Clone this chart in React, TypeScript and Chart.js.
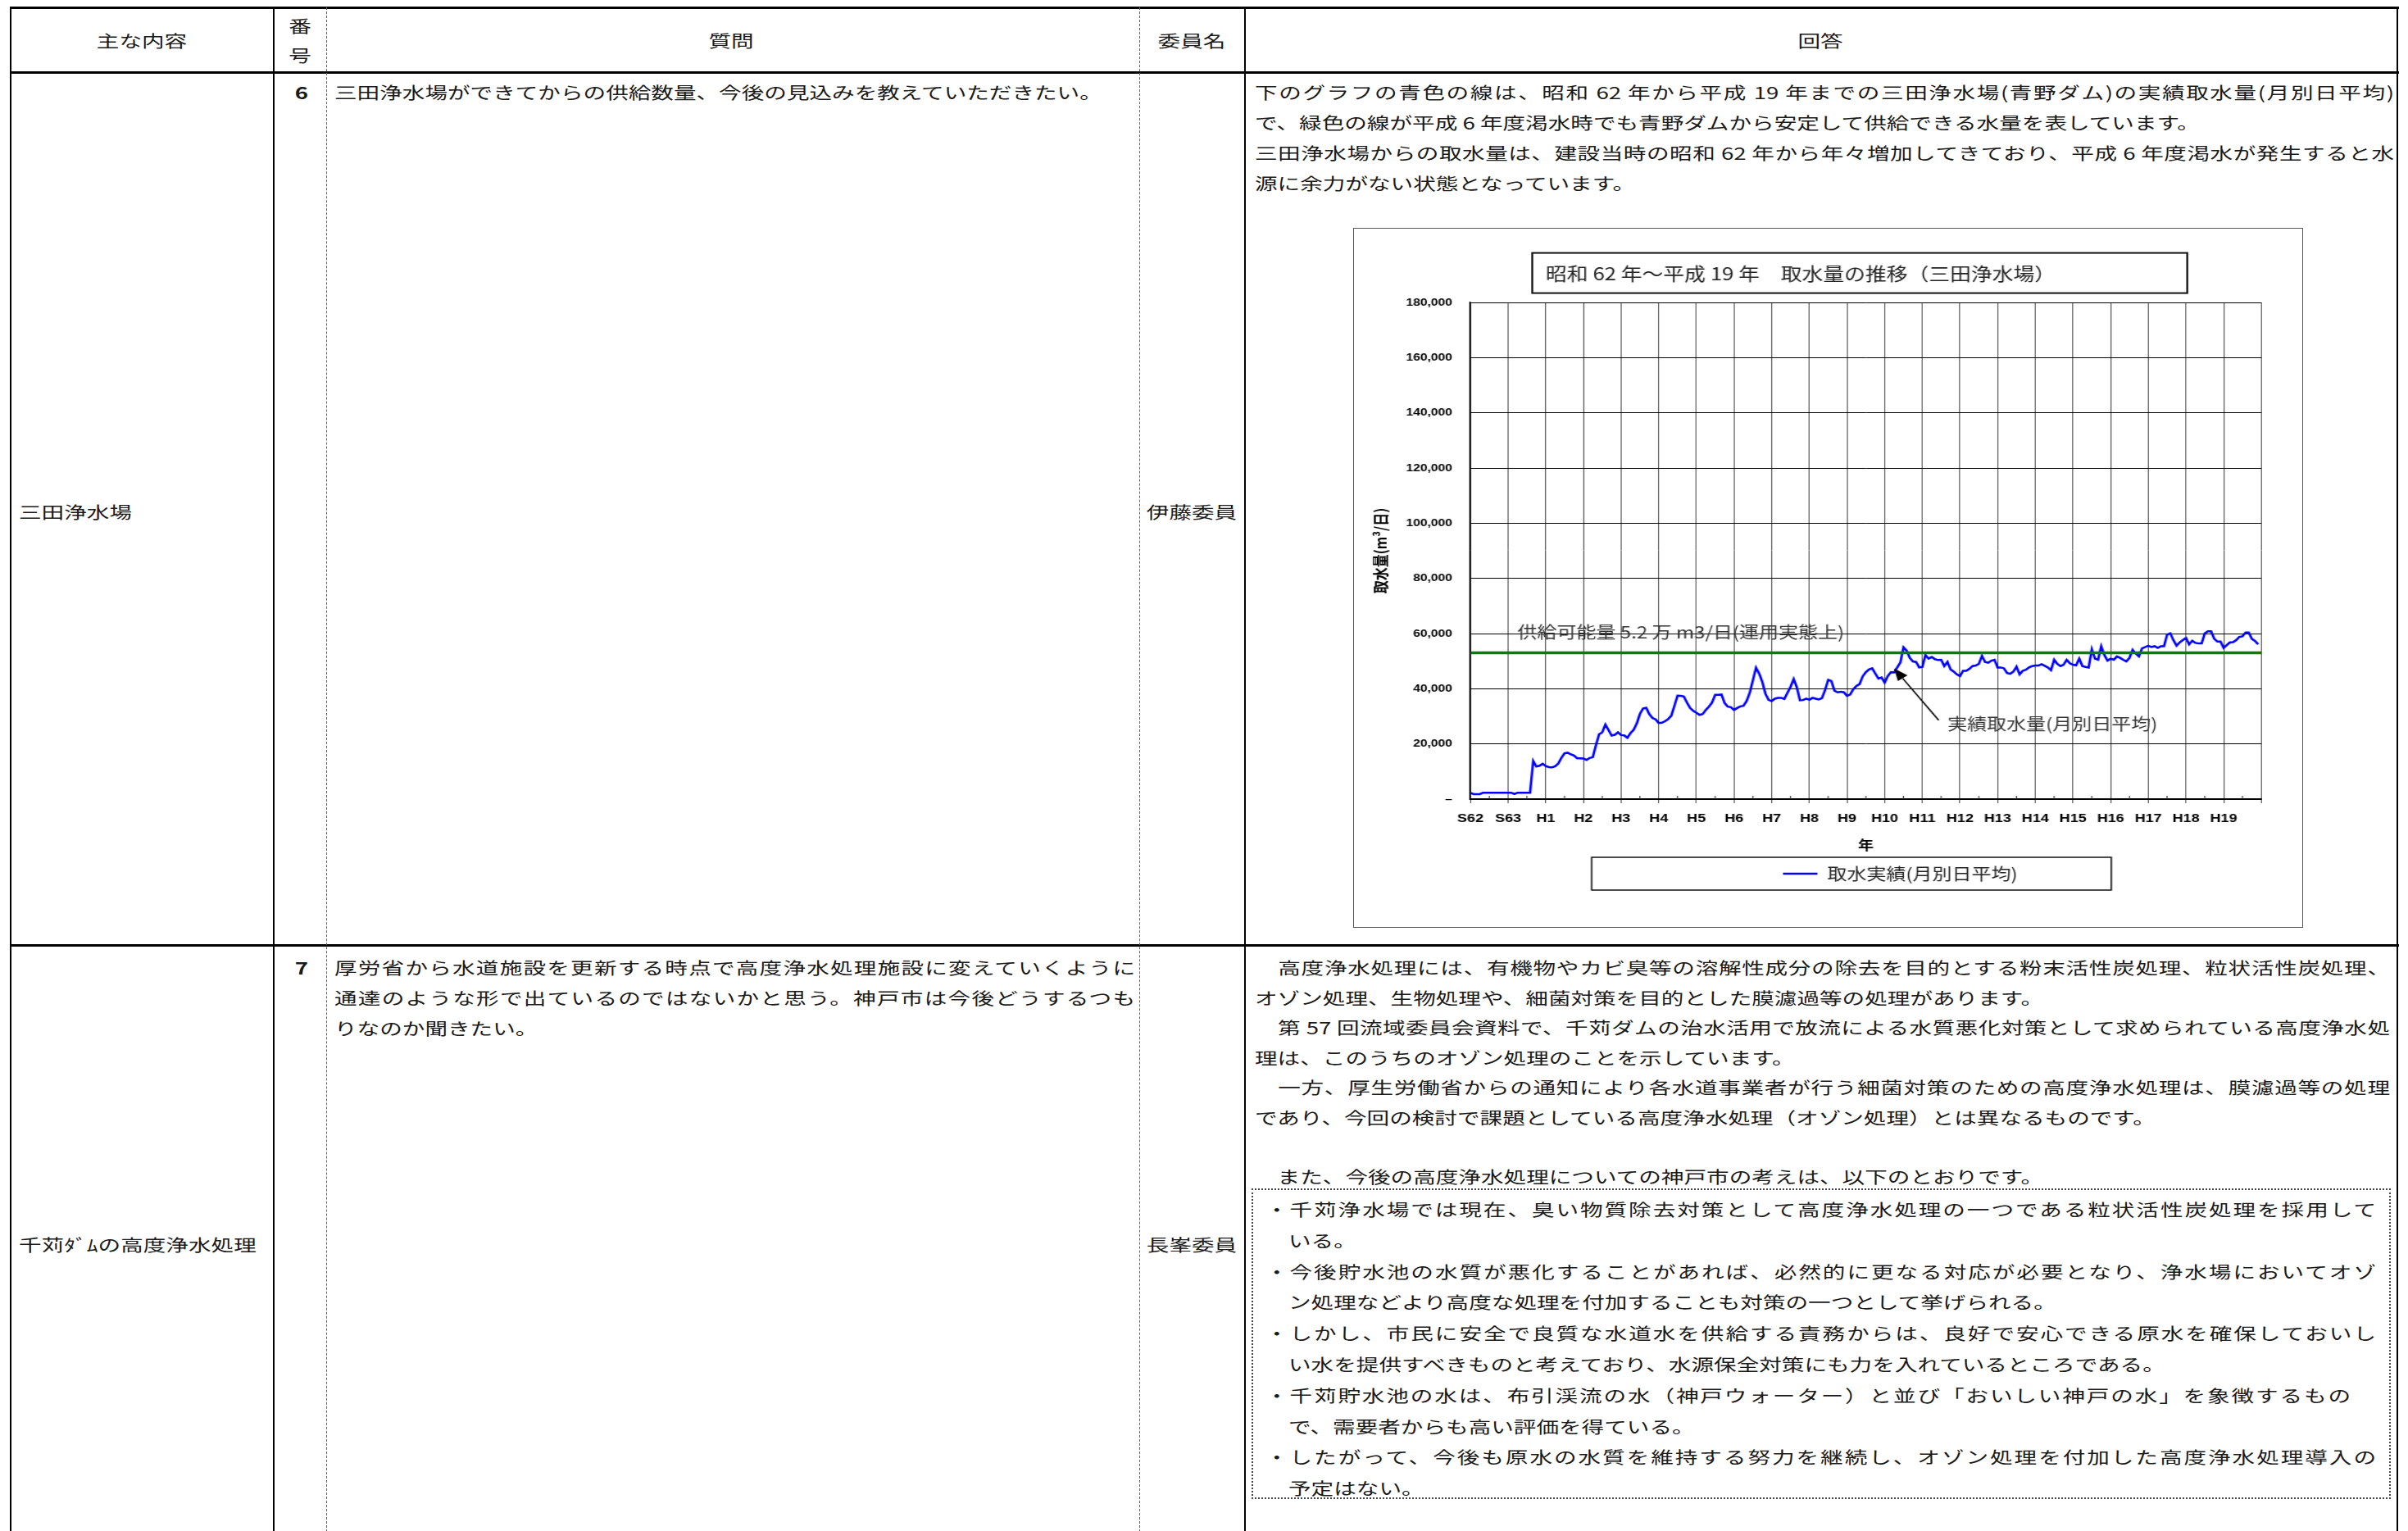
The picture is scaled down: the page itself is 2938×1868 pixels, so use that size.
import React, { useEffect, useRef } from "react";
import { Chart, registerables } from "chart.js";

Chart.register(...registerables);

// ---------- chart data ----------
const YEAR_LABELS = ["S62", "S63", "H1", "H2", "H3", "H4", "H5", "H6", "H7", "H8", "H9", "H10", "H11", "H12", "H13", "H14", "H15", "H16", "H17", "H18", "H19"];
const MONTHS_PER_YEAR = 12;
// monthly average daily intake (m3/day), S62 first month .. H19 last month
const WITHDRAWAL = [
  2300, 1800, 1800, 1800, 2300, 2300, 2300, 2300, 2300, 2300, 2300, 2300,
  2300, 2300, 1800, 2300, 2300, 2300, 2300, 2300, 13800, 11800, 12100, 12800,
  12000, 11600, 11500, 11900, 12900, 15000, 16600, 16800, 16200, 15800, 14800, 14800,
  14700, 14200, 14900, 15200, 19500, 23500, 24200, 27000, 25000, 23000, 23300, 24200,
  23200, 23100, 22200, 23900, 25100, 27400, 30800, 32800, 33100, 30800, 29400, 28900,
  27600, 27700, 28200, 29000, 30200, 33800, 37500, 37400, 37200, 35000, 33000, 32000,
  31300, 30500, 30800, 32300, 33500, 35000, 37800, 37800, 37900, 34800, 33500, 33300,
  32300, 33000, 33600, 33800, 35500, 38500, 43000, 47600, 45500, 42500, 38200, 36000,
  35500, 36400, 36700, 36700, 36300, 38500, 40700, 43500, 40500, 35800, 35900, 36400,
  36000, 36700, 36400, 36100, 36600, 39500, 43200, 42800, 39300, 38700, 38900, 38700,
  37400, 37900, 39800, 41000, 41700, 44500, 46000, 47000, 47400, 45500, 43700, 44100,
  42200, 44600, 46000, 45900, 47700, 49500, 55000, 53800, 51200, 49900, 49700, 47700,
  47900, 52200, 50900, 51500, 50700, 50400, 50500, 48200, 49700, 47000, 46200, 45200,
  44600, 46500, 46500, 47200, 48200, 48400, 49000, 51900, 49700, 49400, 50200, 50500,
  47700, 47700, 47400, 45700, 45400, 46200, 48000, 45200, 46500, 46900, 47700, 48200,
  48400, 48400, 48900, 48300, 47700, 46700, 50500, 49000, 48200, 48700, 50500, 49200,
  48700, 48500, 50900, 48200, 47900, 47700, 54300, 50900, 50500, 55400, 52200, 50200,
  50900, 50500, 51700, 51200, 50500, 49900, 51200, 54100, 52700, 51700, 54600, 55100,
  55600, 55100, 55400, 54800, 55400, 55400, 59600, 60100, 57600, 55600, 56800, 57600,
  58400, 56100, 57400, 56600, 56400, 56400, 60100, 60800, 60800, 58100, 57100, 57100,
  54800, 55800, 56800, 56900, 57600, 58800, 59000, 60400, 60400, 58100, 57300, 56100,
];
const SUPPLY_CAPACITY = 53000;
const Y_MAX = 180000;
const Y_STEP = 20000;

const CHART_TITLE = "昭和 62 年～平成 19 年　取水量の推移（三田浄水場）";
const SERIES_LABEL = "取水実績(月別日平均)";
const SUPPLY_LABEL = "供給可能量";
const SUPPLY_NOTE = "供給可能量 5.2 万 m3/日(運用実態上)";
const ACTUAL_NOTE = "実績取水量(月別日平均)";
const Y_TITLE = "取水量(m³/日)";
const X_TITLE = "年";

// annotation anchors in data units [month index, m3/day]
const SUPPLY_NOTE_AT = [15, 60500];
const ACTUAL_NOTE_AT = [152, 27250];
const ARROW_FROM = [149.2, 28600];
const ARROW_TO = [135, 47400];

const JP = '"Noto Sans CJK JP", "Noto Sans CJK SC", sans-serif';
const SANS = '"Liberation Sans", Arial, sans-serif';

// ---------- document text ----------
const HEADERS = ["主な内容", "質問", "委員名", "回答"];
const TOPIC_1 = "三田浄水場";
const TOPIC_2 = "千苅ﾀﾞﾑの高度浄水処理";
const MEMBER_1 = "伊藤委員";
const MEMBER_2 = "長峯委員";
const QUESTION_1 = "三田浄水場ができてからの供給数量、今後の見込みを教えていただきたい。";
const QUESTION_2 = [
  "厚労省から水道施設を更新する時点で高度浄水処理施設に変えていくように",
  "通達のような形で出ているのではないかと思う。神戸市は今後どうするつも",
  "りなのか聞きたい。",
];
const ANSWER_1 = [
  "下のグラフの青色の線は、昭和 62 年から平成 19 年までの三田浄水場(青野ダム)の実績取水量(月別日平均)",
  "で、緑色の線が平成 6 年度渇水時でも青野ダムから安定して供給できる水量を表しています。",
  "三田浄水場からの取水量は、建設当時の昭和 62 年から年々増加してきており、平成 6 年度渇水が発生すると水",
  "源に余力がない状態となっています。",
];
const ANSWER_2 = [
  "　高度浄水処理には、有機物やカビ臭等の溶解性成分の除去を目的とする粉末活性炭処理、粒状活性炭処理、",
  "オゾン処理、生物処理や、細菌対策を目的とした膜濾過等の処理があります。",
  "　第 57 回流域委員会資料で、千苅ダムの治水活用で放流による水質悪化対策として求められている高度浄水処",
  "理は、このうちのオゾン処理のことを示しています。",
  "　一方、厚生労働省からの通知により各水道事業者が行う細菌対策のための高度浄水処理は、膜濾過等の処理",
  "であり、今回の検討で課題としている高度浄水処理（オゾン処理）とは異なるものです。",
];
const ANSWER_2_LEAD = "　また、今後の高度浄水処理についての神戸市の考えは、以下のとおりです。";
const BOX_LINES = [
  "・千苅浄水場では現在、臭い物質除去対策として高度浄水処理の一つである粒状活性炭処理を採用して",
  "いる。",
  "・今後貯水池の水質が悪化することがあれば、必然的に更なる対応が必要となり、浄水場においてオゾ",
  "ン処理などより高度な処理を付加することも対策の一つとして挙げられる。",
  "・しかし、市民に安全で良質な水道水を供給する責務からは、良好で安心できる原水を確保しておいし",
  "い水を提供すべきものと考えており、水源保全対策にも力を入れているところである。",
  "・千苅貯水池の水は、布引渓流の水（神戸ウォーター）と並び「おいしい神戸の水」を象徴するもの",
  "で、需要者からも高い評価を得ている。",
  "・したがって、今後も原水の水質を維持する努力を継続し、オゾン処理を付加した高度浄水処理導入の",
  "予定はない。",
];

// ---------- chart plugin: title box, legend box, notes, arrow, minor ticks ----------
const decorPlugin = {
  id: "decor",
  afterLayout(chart: any) {
    const lg = chart.legend;
    const ca = chart.chartArea;
    if (lg && ca) {
      const target = (ca.left + ca.right) / 2 + 35;
      const d = target - (lg.left + lg.right) / 2;
      lg.left += d;
      lg.right += d;
    }
  },
  afterDraw(chart: any) {
    const { ctx, chartArea: ca } = chart;
    const xs = chart.scales.x;
    const ys = chart.scales.y;
    const cx = (ca.left + ca.right) / 2;
    ctx.save();

    // minor half-year ticks on x axis
    ctx.strokeStyle = "#333";
    ctx.lineWidth = 1;
    for (let m = MONTHS_PER_YEAR / 2; m < WITHDRAWAL.length; m += MONTHS_PER_YEAR) {
      const px = xs.getPixelForValue(m);
      ctx.beginPath();
      ctx.moveTo(px, ca.bottom);
      ctx.lineTo(px, ca.bottom - 4);
      ctx.stroke();
    }

    // title box + title
    const tLeft = cx - 339.2;
    ctx.strokeStyle = "#111";
    ctx.lineWidth = 2;
    ctx.strokeRect(tLeft, 30.6, 666, 49);
    ctx.fillStyle = "#222";
    ctx.font = `21.5px ${JP}`;
    ctx.textAlign = "left";
    ctx.textBaseline = "middle";
    ctx.fillText(CHART_TITLE, tLeft + 13.8, 55.5);

    // legend box
    const lg = chart.legend;
    const lgCenter = lg ? lg.bottom - 10 - 10 : ca.bottom + 88;
    ctx.lineWidth = 1.5;
    ctx.strokeStyle = "#111";
    ctx.strokeRect(cx - 278.8, lgCenter - 20, 528.3, 40);

    // notes
    ctx.fillStyle = "#333";
    ctx.font = `20px ${JP}`;
    ctx.fillText(SUPPLY_NOTE, xs.getPixelForValue(SUPPLY_NOTE_AT[0]), ys.getPixelForValue(SUPPLY_NOTE_AT[1]));
    ctx.fillText(ACTUAL_NOTE, xs.getPixelForValue(ACTUAL_NOTE_AT[0]), ys.getPixelForValue(ACTUAL_NOTE_AT[1]));

    // arrow
    const x1 = xs.getPixelForValue(ARROW_FROM[0]);
    const y1 = ys.getPixelForValue(ARROW_FROM[1]);
    const x2 = xs.getPixelForValue(ARROW_TO[0]);
    const y2 = ys.getPixelForValue(ARROW_TO[1]);
    const ang = Math.atan2(y2 - y1, x2 - x1);
    const head = 15;
    const half = 6;
    const hx = x2 - head * Math.cos(ang);
    const hy = y2 - head * Math.sin(ang);
    ctx.strokeStyle = "#000";
    ctx.fillStyle = "#000";
    ctx.lineWidth = 1.5;
    ctx.beginPath();
    ctx.moveTo(x1, y1);
    ctx.lineTo(hx, hy);
    ctx.stroke();
    ctx.beginPath();
    ctx.moveTo(x2, y2);
    ctx.lineTo(hx + half * Math.sin(ang), hy - half * Math.cos(ang));
    ctx.lineTo(hx - half * Math.sin(ang), hy + half * Math.cos(ang));
    ctx.closePath();
    ctx.fill();
    ctx.restore();
  },
};

// ---------- text helper ----------
type TP = {
  x: number;
  y: number;
  text: string;
  w?: number;
  justify?: boolean;
  center?: boolean;
  right?: boolean;
  bold?: boolean;
  size?: number;
};
function T({ x, y, text, w, justify, center, right, bold, size = 27.6 }: TP) {
  let left = x;
  let width: number | undefined = w;
  let align: any = "left";
  if (center) {
    width = 400;
    left = x - 200;
    align = "center";
  } else if (right) {
    width = 100;
    left = x - 100;
    align = "right";
  } else if (justify) {
    align = "justify";
  }
  return (
    <div
      style={{
        position: "absolute",
        left,
        top: y - 20,
        height: 40,
        lineHeight: "40px",
        width,
        fontSize: size,
        fontWeight: bold ? 700 : 400,
        whiteSpace: "nowrap",
        textAlign: align,
        textAlignLast: align,
        transform: "scaleY(0.75)",
        transformOrigin: "50% 50%",
        color: "#1a1a1a",
      }}
    >
      {text}
    </div>
  );
}

function HLine({ y, h = 3 }: { y: number; h?: number }) {
  return <div style={{ position: "absolute", left: 12, top: y, width: 2915, height: h, background: "#000" }} />;
}
function VLine({ x, w = 2, dashed }: { x: number; w?: number; dashed?: boolean }) {
  if (dashed) {
    return <div style={{ position: "absolute", left: x, top: 9, width: 0, height: 1860, borderLeft: "1px dashed #666" }} />;
  }
  return <div style={{ position: "absolute", left: x, top: 8, width: w, height: 1860, background: "#000" }} />;
}

export default function App() {
  const ref = useRef<HTMLCanvasElement>(null);

  useEffect(() => {
    if (!ref.current) return;
    const chart = new Chart(ref.current, {
      type: "line",
      data: {
        datasets: [
          {
            label: SERIES_LABEL,
            data: WITHDRAWAL.map((v, i) => ({ x: i, y: v })),
            borderColor: "#0000ff",
            backgroundColor: "#0000ff",
            borderWidth: 2.5,
            pointRadius: 0,
            tension: 0,
            fill: false,
            order: 1,
          },
          {
            label: SUPPLY_LABEL,
            data: [
              { x: 0, y: SUPPLY_CAPACITY },
              { x: WITHDRAWAL.length, y: SUPPLY_CAPACITY },
            ],
            borderColor: "#008000",
            backgroundColor: "#008000",
            borderWidth: 3.5,
            pointRadius: 0,
            fill: false,
            order: 0,
          },
        ],
      },
      options: {
        responsive: false,
        animation: false,
        events: [],
        layout: { padding: { top: 91, left: 8, right: 42.7, bottom: 46 } },
        plugins: {
          title: { display: false },
          tooltip: { enabled: false },
          legend: {
            position: "bottom",
            labels: {
              usePointStyle: true,
              pointStyle: "line",
              pointStyleWidth: 35,
              font: { family: JP, size: 20 },
              color: "#222",
              padding: 11.4,
              filter: (item: any) => item.datasetIndex === 0,
            },
          },
        },
        scales: {
          x: {
            type: "linear",
            min: 0,
            max: WITHDRAWAL.length,
            ticks: {
              stepSize: MONTHS_PER_YEAR,
              autoSkip: false,
              maxRotation: 0,
              padding: 10,
              color: "#000",
              font: { family: SANS, size: 15, weight: "bold" },
              callback: (v: any) => YEAR_LABELS[Math.round(Number(v) / MONTHS_PER_YEAR)] ?? "",
            },
            grid: { color: "#555", lineWidth: 1, tickLength: 5, drawTicks: true },
            border: { color: "#000", width: 2 },
            title: {
              display: true,
              text: X_TITLE,
              color: "#000",
              font: { family: JP, size: 16, weight: "bold" },
              padding: { top: 3.4, bottom: 4 },
            },
          },
          y: {
            min: 0,
            max: Y_MAX,
            ticks: {
              stepSize: Y_STEP,
              padding: 18.4,
              color: "#000",
              font: { family: SANS, size: 13, weight: "bold" },
              callback: (v: any) => (Number(v) === 0 ? "–" : Number(v).toLocaleString("en-US")),
            },
            grid: { color: "#000", lineWidth: 1, drawTicks: false },
            border: { color: "#000", width: 1.5 },
            title: {
              display: true,
              text: Y_TITLE,
              color: "#000",
              font: { family: JP, size: 16, weight: "bold" },
              padding: { top: 10.7, bottom: 0 },
            },
            afterFit: (s: any) => {
              s.width = 111.2;
            },
          },
        },
      } as any,
      plugins: [decorPlugin as any],
    });
    return () => chart.destroy();
  }, []);

  return (
    <div
      style={{
        position: "absolute",
        left: 0,
        top: 0,
        width: 2938,
        height: 1868,
        background: "#fff",
        overflow: "hidden",
        fontFamily: JP,
      }}
    >
      {/* table rules */}
      <HLine y={8} />
      <HLine y={87} />
      <HLine y={1152} />
      <VLine x={12} />
      <VLine x={333} />
      <VLine x={398} dashed />
      <VLine x={1390} dashed />
      <VLine x={1518} />
      <VLine x={2924} />

      {/* header */}
      <T x={173} y={49} text={HEADERS[0]} center />
      <T x={366} y={31} text="番" center />
      <T x={366} y={67} text="号" center />
      <T x={892} y={49} text={HEADERS[1]} center />
      <T x={1454} y={49} text={HEADERS[2]} center />
      <T x={2221} y={49} text={HEADERS[3]} center />

      {/* row 1 */}
      <T x={23} y={624} text={TOPIC_1} />
      <T x={376} y={112} text="6" right bold />
      <T x={408} y={112} text={QUESTION_1} />
      <T x={1454} y={624} text={MEMBER_1} center />
      <T x={1531} y={112} text={ANSWER_1[0]} w={1390} justify />
      <T x={1531} y={149} text={ANSWER_1[1]} />
      <T x={1531} y={186} text={ANSWER_1[2]} w={1390} justify />
      <T x={1531} y={223} text={ANSWER_1[3]} />

      {/* chart frame */}
      <div style={{ position: "absolute", left: 1651, top: 278, width: 1159, height: 854, border: "1px solid #555", boxSizing: "border-box" }} />
      <div style={{ position: "absolute", left: 1651, top: 278, width: 966, height: 854, transform: "scaleX(1.2)", transformOrigin: "0 0" }}>
        <canvas ref={ref} width={966} height={854} />
      </div>

      {/* row 2 */}
      <T x={23} y={1518} text={TOPIC_2} />
      <T x={376} y={1180} text="7" right bold />
      <T x={408} y={1180} text={QUESTION_2[0]} w={977} justify />
      <T x={408} y={1217} text={QUESTION_2[1]} w={977} justify />
      <T x={408} y={1254} text={QUESTION_2[2]} />
      <T x={1454} y={1518} text={MEMBER_2} center />
      {ANSWER_2.map((t, i) => (
        <T key={i} x={1531} y={1180 + 36.5 * i} text={t} w={1385} justify={i % 2 === 0} />
      ))}
      <T x={1531} y={1435} text={ANSWER_2_LEAD} />

      <div style={{ position: "absolute", left: 1527, top: 1450, width: 1390, height: 379, border: "2px dotted #444", boxSizing: "border-box" }} />
      {BOX_LINES.map((t, i) => {
        const bullet = i % 2 === 0;
        return (
          <T
            key={i}
            x={bullet ? 1544 : 1572}
            y={1475 + 37.8 * i}
            text={t}
            w={bullet ? (i === 6 ? 1324 : 1355) : undefined}
            justify={bullet}
          />
        );
      })}
    </div>
  );
}
